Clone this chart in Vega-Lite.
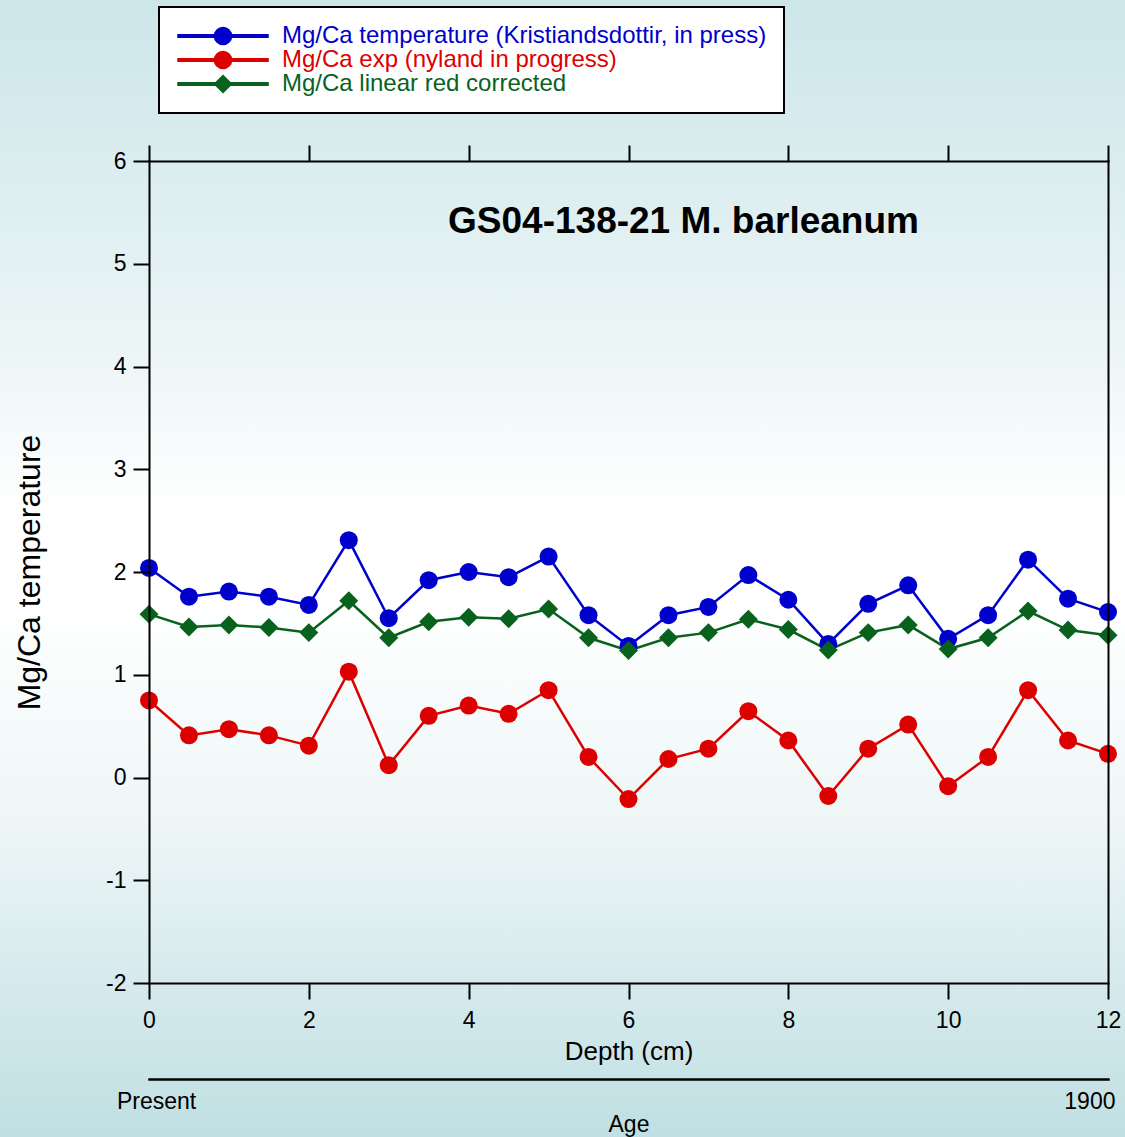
{
  "$schema": "https://vega.github.io/schema/vega-lite/v6.json",
  "width": 959,
  "height": 822,
  "autosize": {"type": "none"},
  "padding": {"left": 149, "top": 161, "right": 17, "bottom": 154},
  "background": "#ffffff",
  "title": {"text": "GS04-138-21 M. barleanum", "font": "Liberation Sans", "fontSize": 37, "fontWeight": "bold", "color": "black", "anchor": "middle", "frame": "group", "dx": 55, "dy": 262, "offset": 0, "baseline": "middle", "zindex": 1},
  "config": {
    "view": {"stroke": null},
    "font": "Liberation Sans",
    "axis": {"domainColor": "black", "tickColor": "black", "labelColor": "black", "titleColor": "black", "labelFont": "Liberation Sans", "titleFont": "Liberation Sans", "grid": false, "zindex": 1, "titleFontWeight": "normal", "domainWidth": 2, "tickWidth": 2, "labelFlush": false, "labelOverlap": false, "domainCap": "square"}
  },
  "data": {"values": [
    {"d": 0, "s": "T", "v": 2.04}, {"d": 0.5, "s": "T", "v": 1.76}, {"d": 1, "s": "T", "v": 1.81}, {"d": 1.5, "s": "T", "v": 1.76}, {"d": 2, "s": "T", "v": 1.68},
    {"d": 2.5, "s": "T", "v": 2.31}, {"d": 3, "s": "T", "v": 1.55}, {"d": 3.5, "s": "T", "v": 1.92}, {"d": 4, "s": "T", "v": 2.0}, {"d": 4.5, "s": "T", "v": 1.95},
    {"d": 5, "s": "T", "v": 2.15}, {"d": 5.5, "s": "T", "v": 1.58}, {"d": 6, "s": "T", "v": 1.28}, {"d": 6.5, "s": "T", "v": 1.58}, {"d": 7, "s": "T", "v": 1.66},
    {"d": 7.5, "s": "T", "v": 1.97}, {"d": 8, "s": "T", "v": 1.73}, {"d": 8.5, "s": "T", "v": 1.3}, {"d": 9, "s": "T", "v": 1.69}, {"d": 9.5, "s": "T", "v": 1.87},
    {"d": 10, "s": "T", "v": 1.35}, {"d": 10.5, "s": "T", "v": 1.58}, {"d": 11, "s": "T", "v": 2.12}, {"d": 11.5, "s": "T", "v": 1.74}, {"d": 12, "s": "T", "v": 1.61},
    {"d": 0, "s": "E", "v": 0.75}, {"d": 0.5, "s": "E", "v": 0.41}, {"d": 1, "s": "E", "v": 0.47}, {"d": 1.5, "s": "E", "v": 0.41}, {"d": 2, "s": "E", "v": 0.31},
    {"d": 2.5, "s": "E", "v": 1.03}, {"d": 3, "s": "E", "v": 0.12}, {"d": 3.5, "s": "E", "v": 0.6}, {"d": 4, "s": "E", "v": 0.7}, {"d": 4.5, "s": "E", "v": 0.62},
    {"d": 5, "s": "E", "v": 0.85}, {"d": 5.5, "s": "E", "v": 0.2}, {"d": 6, "s": "E", "v": -0.21}, {"d": 6.5, "s": "E", "v": 0.18}, {"d": 7, "s": "E", "v": 0.28},
    {"d": 7.5, "s": "E", "v": 0.645}, {"d": 8, "s": "E", "v": 0.36}, {"d": 8.5, "s": "E", "v": -0.18}, {"d": 9, "s": "E", "v": 0.28}, {"d": 9.5, "s": "E", "v": 0.515},
    {"d": 10, "s": "E", "v": -0.085}, {"d": 10.5, "s": "E", "v": 0.2}, {"d": 11, "s": "E", "v": 0.85}, {"d": 11.5, "s": "E", "v": 0.36}, {"d": 12, "s": "E", "v": 0.23},
    {"d": 0, "s": "L", "v": 1.59}, {"d": 0.5, "s": "L", "v": 1.465}, {"d": 1, "s": "L", "v": 1.485}, {"d": 1.5, "s": "L", "v": 1.46}, {"d": 2, "s": "L", "v": 1.41},
    {"d": 2.5, "s": "L", "v": 1.72}, {"d": 3, "s": "L", "v": 1.36}, {"d": 3.5, "s": "L", "v": 1.515}, {"d": 4, "s": "L", "v": 1.56}, {"d": 4.5, "s": "L", "v": 1.545},
    {"d": 5, "s": "L", "v": 1.64}, {"d": 5.5, "s": "L", "v": 1.36}, {"d": 6, "s": "L", "v": 1.235}, {"d": 6.5, "s": "L", "v": 1.36}, {"d": 7, "s": "L", "v": 1.41},
    {"d": 7.5, "s": "L", "v": 1.54}, {"d": 8, "s": "L", "v": 1.44}, {"d": 8.5, "s": "L", "v": 1.24}, {"d": 9, "s": "L", "v": 1.41}, {"d": 9.5, "s": "L", "v": 1.485},
    {"d": 10, "s": "L", "v": 1.25}, {"d": 10.5, "s": "L", "v": 1.36}, {"d": 11, "s": "L", "v": 1.62}, {"d": 11.5, "s": "L", "v": 1.435}, {"d": 12, "s": "L", "v": 1.385}
  ]},
  "layer": [
    {
      "data": {"values": [{}]},
      "mark": {"type": "rect", "clip": false, "stroke": null, "fill": {"gradient": "linear", "x1": 0, "y1": 0, "x2": 0, "y2": 1, "stops": [
        {"offset": 0, "color": "#cce6e9"}, {"offset": 0.15, "color": "#dbedef"}, {"offset": 0.3, "color": "#ebf5f6"}, {"offset": 0.45, "color": "#ffffff"},
        {"offset": 0.53, "color": "#ffffff"}, {"offset": 0.72, "color": "#eef6f6"}, {"offset": 0.86, "color": "#d6eaed"}, {"offset": 1, "color": "#bfdfe2"}]}},
      "encoding": {
        "x": {"datum": -1.9, "type": "quantitative", "scale": {"domain": [0, 12], "nice": false, "zero": false},
          "axis": {"orient": "bottom", "offset": 96, "zindex": 1, "values": [0, 12], "ticks": false, "domainWidth": 2.5, "labelFontSize": 23, "labelPadding": 11,
            "labelExpr": "datum.value == 0 ? 'Present' : '1900'", "labelOffset": 7,
            "labelAlign": {"condition": {"test": "datum.value == 12", "value": "right"}, "value": "center"},
            "title": "Age", "titleFontSize": 23, "titlePadding": 0}},
        "x2": {"datum": 12.3},
        "y": {"datum": 7.6, "type": "quantitative", "scale": {"domain": [-2, 6], "nice": false, "zero": false}, "axis": null},
        "y2": {"datum": -3.55}
      }
    },
    {
      "mark": {"type": "line", "strokeWidth": 2.5},
      "encoding": {
        "x": {"field": "d", "type": "quantitative", "scale": {"domain": [0, 12], "nice": false, "zero": false},
          "axis": {"orient": "bottom", "zindex": 1, "values": [0, 2, 4, 6, 8, 10, 12], "tickSize": 16, "labelFontSize": 23, "labelPadding": 10, "title": "Depth (cm)", "titleFontSize": 26, "titlePadding": 6}},
        "y": {"field": "v", "type": "quantitative", "scale": {"domain": [-2, 6], "nice": false, "zero": false},
          "axis": {"orient": "left", "zindex": 1, "values": [-2, -1, 0, 1, 2, 3, 4, 5, 6], "tickSize": 16, "labelFontSize": 23, "labelPadding": 7,
            "labelExpr": "datum.value < 0 ? '-' + abs(datum.value) : '' + datum.value",
            "title": "Mg/Ca temperature", "titleFontSize": 32, "titlePadding": 59}},
        "color": {"field": "s", "type": "nominal", "scale": {"domain": ["T", "E", "L"], "range": ["#0000cc", "#dd0000", "#08621e"]}}
      }
    },
    {
      "mark": {"type": "point", "filled": true, "opacity": 0, "size": 324},
      "encoding": {
        "x": {"field": "d", "type": "quantitative", "scale": {"domain": [0, 12], "nice": false, "zero": false}, "axis": null},
        "y": {"field": "v", "type": "quantitative", "scale": {"domain": [-2, 6], "nice": false, "zero": false}, "axis": null},
        "color": {"field": "s", "type": "nominal", "scale": {"domain": ["T", "E", "L"], "range": ["#0000cc", "#dd0000", "#08621e"]},
          "legend": {"orient": "none", "legendX": 10, "legendY": -154, "direction": "vertical", "title": null, "padding": 17, "fillColor": "white", "strokeColor": "black",
            "labelFont": "Liberation Sans", "labelFontSize": 24, "labelLimit": 1000, "labelOffset": 47, "symbolOffset": 35, "rowPadding": -6, "symbolSize": 324, "symbolOpacity": 1, "zindex": 1,
            "labelExpr": "datum.value == 'T' ? 'Mg/Ca temperature (Kristiandsdottir, in press)' : datum.value == 'E' ? 'Mg/Ca exp (nyland in progress)' : 'Mg/Ca linear red corrected'",
            "encode": {"legend": {"update": {"strokeWidth": {"value": 2}}}, "labels": {"update": {"fill": {"scale": "color", "field": "value"}}}}}},
        "shape": {"field": "s", "type": "nominal", "scale": {"domain": ["T", "E", "L"], "range": [
            "M-5,-0.14H5V0.14H-5ZM0.95,0A0.95,0.95 0 1,1 -0.95,0A0.95,0.95 0 1,1 0.95,0Z",
            "M-5,-0.14H5V0.14H-5ZM0.95,0A0.95,0.95 0 1,1 -0.95,0A0.95,0.95 0 1,1 0.95,0Z",
            "M-5,-0.14H5V0.14H-5ZM0,-0.95L0.95,0L0,0.95L-0.95,0Z"]},
          "legend": {"orient": "none", "legendX": 10, "legendY": -154, "direction": "vertical", "title": null, "padding": 17, "fillColor": "white", "strokeColor": "black",
            "labelFont": "Liberation Sans", "labelFontSize": 24, "labelLimit": 1000, "labelOffset": 47, "symbolOffset": 35, "rowPadding": -6, "symbolSize": 324, "symbolOpacity": 1, "zindex": 1,
            "labelExpr": "datum.value == 'T' ? 'Mg/Ca temperature (Kristiandsdottir, in press)' : datum.value == 'E' ? 'Mg/Ca exp (nyland in progress)' : 'Mg/Ca linear red corrected'",
            "encode": {"legend": {"update": {"strokeWidth": {"value": 2}}}, "labels": {"update": {"fill": {"scale": "color", "field": "value"}}}}}}
      }
    },
    {
      "transform": [{"filter": "datum.s != 'L'"}],
      "mark": {"type": "point", "shape": "circle", "filled": true, "opacity": 1, "size": 324},
      "encoding": {
        "x": {"field": "d", "type": "quantitative", "scale": {"domain": [0, 12], "nice": false, "zero": false},
          "axis": {"orient": "top", "zindex": 1, "values": [0, 2, 4, 6, 8, 10, 12], "tickSize": 16, "labels": false, "title": null}},
        "y": {"field": "v", "type": "quantitative", "scale": {"domain": [-2, 6], "nice": false, "zero": false},
          "axis": {"orient": "right", "zindex": 1, "ticks": false, "labels": false, "title": null}},
        "color": {"field": "s", "type": "nominal", "scale": {"domain": ["T", "E", "L"], "range": ["#0000cc", "#dd0000", "#08621e"]}}
      }
    },
    {
      "transform": [{"filter": "datum.s == 'L'"}],
      "mark": {"type": "point", "shape": "diamond", "filled": true, "opacity": 1, "size": 360},
      "encoding": {
        "x": {"field": "d", "type": "quantitative", "scale": {"domain": [0, 12], "nice": false, "zero": false}, "axis": null},
        "y": {"field": "v", "type": "quantitative", "scale": {"domain": [-2, 6], "nice": false, "zero": false}, "axis": null},
        "color": {"field": "s", "type": "nominal", "scale": {"domain": ["T", "E", "L"], "range": ["#0000cc", "#dd0000", "#08621e"]}}
      }
    }
  ],
  "resolve": {"axis": {"x": "independent", "y": "independent"}}
}
